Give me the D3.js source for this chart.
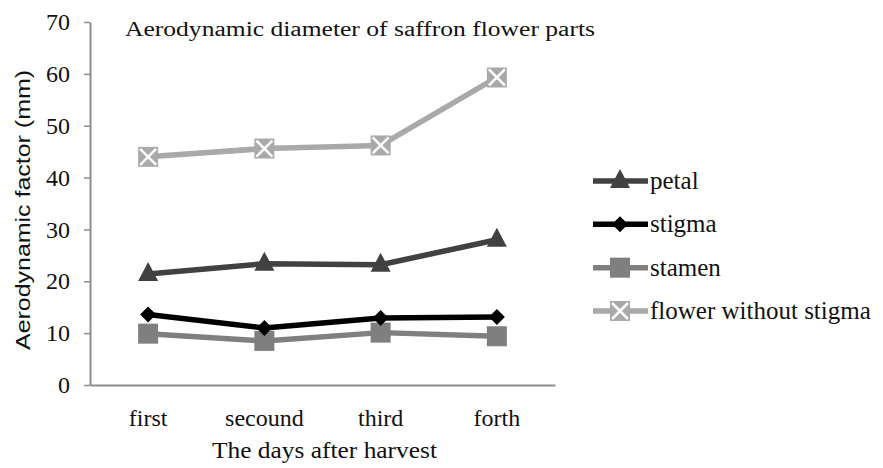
<!DOCTYPE html>
<html>
<head>
<meta charset="utf-8">
<script src="https://cdn.jsdelivr.net/npm/d3@7"></script>
<style>
  body { margin: 0; background: #fff; }
  text { font-family: "Liberation Serif", "Times New Roman", serif; fill: #111; }
</style>
</head>
<body>
<script>
// categories and series
let days = ['first', 'secound', 'third', 'forth'];
let petal = [21.4, 23.4, 23.2, 28.0];
let stigma = [13.6, 11.0, 12.9, 13.1];
let stamen = [9.9, 8.5, 10.1, 9.4];
let flower = [44.0, 45.6, 46.2, 59.3];
let yTicks = [0, 10, 20, 30, 40, 50, 60, 70];

let width = 883;
let height = 468;
let margin = {top: 22, right: 328, bottom: 83, left: 90};

let series = [
  {name: 'petal', values: petal, color: '#414141', symbol: 'triangle'},
  {name: 'stigma', values: stigma, color: '#000000', symbol: 'diamond'},
  {name: 'stamen', values: stamen, color: '#7f7f7f', symbol: 'square'},
  {name: 'flower without stigma', values: flower, color: '#a9a9a9', symbol: 'cross'}
];

let svg = d3.select('body')
    .append('svg')
    .attr('width', width)
    .attr('height', height);

let x = d3.scaleBand()
    .domain(days)
    .range([margin.left, width - margin.right]);

let y = d3.scaleLinear()
    .domain([0, 70])
    .range([height - margin.bottom, margin.top]);

// y axis
let yAxis = svg.append('g')
    .attr('transform', `translate(${margin.left},0)`)
    .call(d3.axisLeft(y).tickValues(yTicks).tickSize(6).tickSizeOuter(0).tickPadding(14));
yAxis.select('.domain').attr('stroke', '#8c8c8c').attr('stroke-width', 2);
yAxis.selectAll('.tick line').attr('stroke', '#8c8c8c').attr('stroke-width', 1.5);
yAxis.selectAll('.tick text')
    .style('font-family', '"Liberation Serif", serif')
    .style('font-size', '24px')
    .attr('fill', '#111');

// x axis, no ticks
let xAxis = svg.append('g')
    .attr('transform', `translate(0,${height - margin.bottom})`)
    .call(d3.axisBottom(x).tickSize(0).tickPadding(24));
xAxis.select('.domain').attr('stroke', '#8c8c8c').attr('stroke-width', 2);
xAxis.selectAll('.tick text')
    .style('font-family', '"Liberation Serif", serif')
    .style('font-size', '24px')
    .attr('fill', '#111');

let line = d3.line()
    .x((d, i) => x(days[i]) + x.bandwidth() / 2)
    .y(d => y(d));

function drawSymbol(g, type, color, cx, cy) {
  if (type === 'triangle') {
    g.append('path')
      .attr('d', `M${cx},${cy - 12}L${cx + 10},${cy + 7}L${cx - 10},${cy + 7}Z`)
      .attr('fill', color);
  } else if (type === 'diamond') {
    g.append('path')
      .attr('d', `M${cx},${cy - 8}L${cx + 8},${cy}L${cx},${cy + 8}L${cx - 8},${cy}Z`)
      .attr('fill', color);
  } else if (type === 'square') {
    g.append('rect')
      .attr('x', cx - 10).attr('y', cy - 10)
      .attr('width', 20).attr('height', 20)
      .attr('fill', color);
  } else {
    g.append('rect')
      .attr('x', cx - 10).attr('y', cy - 10)
      .attr('width', 20).attr('height', 20)
      .attr('fill', color);
    g.append('path')
      .attr('d', `M${cx - 8},${cy - 8}L${cx + 8},${cy + 8}M${cx + 8},${cy - 8}L${cx - 8},${cy + 8}`)
      .attr('stroke', '#fff')
      .attr('stroke-width', 2.5);
  }
}

// lines + markers
let order = [3, 0, 2, 1];
order.forEach(k => {
  let s = series[k];
  let g = svg.append('g');
  g.append('path')
    .datum(s.values)
    .attr('d', line)
    .attr('fill', 'none')
    .attr('stroke', s.color)
    .attr('stroke-width', 5.5)
    .attr('stroke-linejoin', 'round');
  s.values.forEach((v, i) => {
    drawSymbol(g, s.symbol, s.color, x(days[i]) + x.bandwidth() / 2, y(v));
  });
});

// legend
let legendY = d3.scalePoint()
    .domain(series.map(s => s.name))
    .range([181, 311]);

series.forEach(s => {
  let g = svg.append('g');
  let ly = legendY(s.name);
  g.append('line')
    .attr('x1', 593).attr('x2', 648)
    .attr('y1', ly).attr('y2', ly)
    .attr('stroke', s.color)
    .attr('stroke-width', 5.5);
  drawSymbol(g, s.symbol, s.color, 620, ly);
  g.append('text')
    .attr('x', 650)
    .attr('y', ly)
    .attr('dy', '0.32em')
    .style('font-size', '25px')
    .text(s.name);
});

// titles
svg.append('text')
    .attr('x', 125)
    .attr('y', 36)
    .attr('textLength', 470)
    .attr('lengthAdjust', 'spacingAndGlyphs')
    .style('font-size', '20px')
    .text('Aerodynamic  diameter of saffron flower parts');

svg.append('text')
    .attr('x', 212)
    .attr('y', 458)
    .attr('textLength', 225)
    .attr('lengthAdjust', 'spacingAndGlyphs')
    .style('font-size', '23px')
    .text('The days after harvest');

svg.append('text')
    .attr('transform', 'translate(30,350) rotate(-90)')
    .attr('textLength', 280)
    .attr('lengthAdjust', 'spacingAndGlyphs')
    .style('font-family', '"Liberation Sans", Arial, sans-serif')
    .style('font-size', '20px')
    .text('Aerodynamic  factor (mm)');
</script>
</body>
</html>
